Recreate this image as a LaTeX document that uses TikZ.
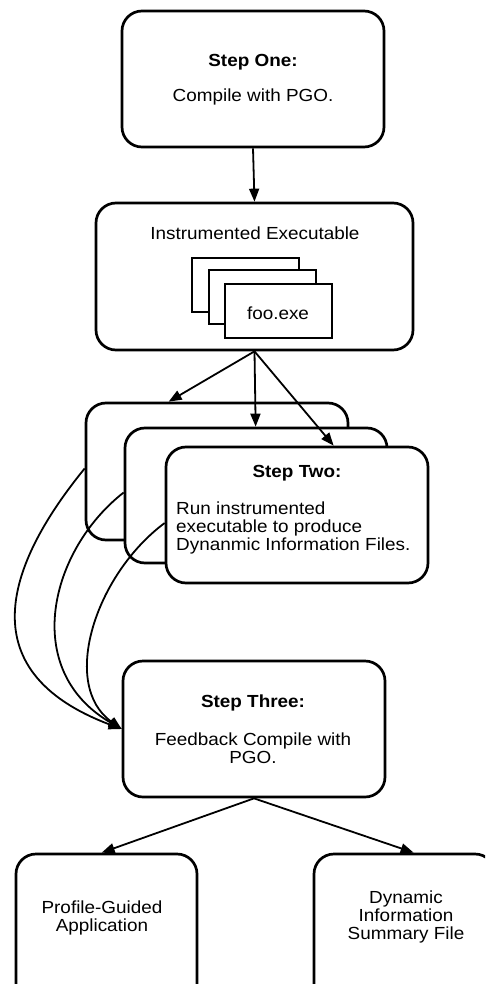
\documentclass[tikz,border=0pt]{standalone}
\usepackage{fontspec}
\setmainfont{Liberation Sans}[FakeStretch=1.08]
\usetikzlibrary{arrows.meta,calc}
\begin{document}
\begin{tikzpicture}[x=1pt,y=-1pt,
  box/.style={draw, line width=2.7pt, rounded corners=20pt, fill=white, inner sep=0pt},
  doc/.style={draw, line width=1.3pt, fill=white, inner sep=0pt, minimum width=107pt, minimum height=54pt},
  txt/.style={inner sep=0pt, font=\fontsize{17.5}{18}\selectfont, align=center},
  conn/.style={line width=1.8pt, -{Triangle[length=13pt,width=10pt]}}]
\useasboundingbox (0,0) rectangle (485,984);
\clip (0,0) rectangle (485,984);
% Step One
\node[box, minimum width=262pt, minimum height=136pt] (one) at (253,79) {};
\node[txt, font=\fontsize{17.5}{18}\selectfont\bfseries] (onet) at (253,62) {Step One:};
\node[txt] (oneb) at (253,97) {Compile with PGO.};
% Instrumented executable
\node[box, minimum width=317pt, minimum height=147pt] (inst) at (254.5,276.5) {};
\node[txt] (instt) at (255,233) {Instrumented Executable};
\node[doc] (d1) at (245.5,285) {};
\node[doc] (d2) at (262.5,297) {};
\node[doc] (d3) at (278.5,311) {};
\node[txt] (foo) at (278,313) {foo.exe};
% Step Two stack
\node[box, minimum width=262pt, minimum height=137pt] (back) at (217,471.5) {};
\node[box, minimum width=262pt, minimum height=135pt] (mid) at (256,495.5) {};
\node[box, minimum width=262pt, minimum height=136pt] (front) at (297,515) {};
\node[txt, font=\fontsize{17.5}{18}\selectfont\bfseries] (twot) at (297,473) {Step Two:};
\node[txt, align=left, anchor=west] (twob) at (176,528) {Run instrumented\\executable to produce\\Dynanmic Information Files.};
% Step Three
\node[box, minimum width=262pt, minimum height=136pt] (three) at (254,729) {};
\node[txt, font=\fontsize{17.5}{18}\selectfont\bfseries] (threet) at (253,703) {Step Three:};
\node[txt] (threeb) at (253,748) {Feedback Compile with\\PGO.};
% Bottom boxes
\node[box, minimum width=181pt, minimum height=156pt] (left) at (106.5,932) {};
\node[box, minimum width=181pt, minimum height=156pt] (right) at (404.5,932) {};
\node[txt] (leftt) at (102,917.5) {Profile-Guided\\Application};
\node[txt] (rightt) at (406,917) {Dynamic\\Information\\Summary File};
% connectors
\draw[conn] (one.south) -- (inst.north);
\draw[conn] (inst.south) -- ($(back.north west)+(84,0)$);
\draw[conn] (inst.south) -- ($(mid.north west)+(132,0)$);
\draw[conn] (inst.south) -- ($(front.north west)+(169,0)$);
\draw[conn] ($(back.west)+(0,-3)$) .. controls (10,560) and (-35,670) .. (three.west);
\draw[conn] ($(mid.west)+(0,-3)$) .. controls (50,550) and (20,670) .. (three.west);
\draw[conn] ($(front.west)+(0,8)$) .. controls (95,575) and (60,685) .. (three.west);
\draw[conn] (three.south) -- ($(left.north west)+(87,0)$);
\draw[conn] (three.south) -- ($(right.north west)+(101,0)$);
\end{tikzpicture}
\end{document}
